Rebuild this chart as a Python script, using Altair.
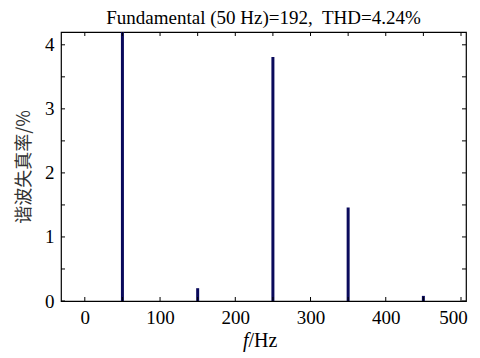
import altair as alt
import pandas as pd

# data
freq = [50, 150, 250, 350, 450]          # Hz
thd = [100.0, 0.20, 3.81, 1.46, 0.08]    # harmonic distortion, % (fundamental clipped)
x_ticks = [0, 50, 100, 150, 200, 250, 300, 350, 400, 450, 500]
x_labels = [0, 100, 200, 300, 400, 500]
y_ticks = [0, 0.5, 1, 1.5, 2, 2.5, 3, 3.5, 4]
y_labels = [0, 1, 2, 3, 4]

title_text = "Fundamental (50 Hz)=192,\u00a0 THD=4.24%"
y_title = "谐波失真率/%"

W, H = 405, 269
SERIF = "Liberation Serif"
BAR = "#0a0a5c"

df = pd.DataFrame({"f": freq, "v": thd})
xt = pd.DataFrame({"t": x_ticks})
yt = pd.DataFrame({"t": y_ticks})

xs = alt.Scale(domain=[-25, 500], nice=False, zero=False)
ys = alt.Scale(domain=[0, 4.2], nice=False, zero=False)

bars = alt.Chart(df).mark_bar(size=3, color=BAR, clip=True).encode(
    x=alt.X("f:Q", scale=xs, axis=alt.Axis(
        values=x_labels, format="d", ticks=False, grid=False, domain=False, title=None,
        labelFont=SERIF, labelFontSize=19, labelColor="black", labelPadding=7,
        labelOffset=alt.ExprRef("datum.value >= 500 ? -8 : 0"),
        labelFlush=False)),
    y=alt.Y("v:Q", scale=ys, axis=alt.Axis(
        values=y_labels, format="d", ticks=False, grid=False, domain=False,
        title=y_title, titleFont="Noto Sans CJK SC", titleFontSize=18,
        titleFontWeight="normal", titleColor="#333333", titlePadding=11,
        labelFont=SERIF, labelFontSize=19, labelColor="black", labelPadding=7,
        labelFlush=False)),
    y2=alt.datum(0),
)

tick_len = 4
xb = alt.Chart(xt).mark_rule(color="black", strokeWidth=1).encode(
    x=alt.X("t:Q", scale=xs), y=alt.value(H), y2=alt.value(H - tick_len))
xtop = alt.Chart(xt).mark_rule(color="black", strokeWidth=1).encode(
    x=alt.X("t:Q", scale=xs), y=alt.value(0), y2=alt.value(tick_len))
yl = alt.Chart(yt).mark_rule(color="black", strokeWidth=1).encode(
    y=alt.Y("t:Q", scale=ys), x=alt.value(0), x2=alt.value(tick_len))
yr = alt.Chart(yt).mark_rule(color="black", strokeWidth=1).encode(
    y=alt.Y("t:Q", scale=ys), x=alt.value(W), x2=alt.value(W - tick_len))

xtitle_f = alt.Chart(pd.DataFrame({"s": ["f"]})).mark_text(
    font=SERIF, fontSize=20, fontStyle="italic", align="right", baseline="middle",
    color="black").encode(text="s:N", x=alt.value(W / 2 - 15), y=alt.value(H + 40))
xtitle_hz = alt.Chart(pd.DataFrame({"s": ["/Hz"]})).mark_text(
    font=SERIF, fontSize=20, align="left", baseline="middle",
    color="black").encode(text="s:N", x=alt.value(W / 2 - 15), y=alt.value(H + 40))

chart = alt.layer(bars, xb, xtop, yl, yr, xtitle_f, xtitle_hz).properties(
    width=W, height=H,
    title=alt.TitleParams(title_text, font=SERIF, fontSize=19, fontWeight="normal",
                          color="black", anchor="middle", offset=4),
    autosize=alt.AutoSizeParams(type="none"),
    padding={"left": 53, "top": 24, "right": 6, "bottom": 57},
).configure_view(stroke="black", strokeWidth=1.2)

chart.save("out.html", embed_options={"renderer": "svg", "actions": False})
